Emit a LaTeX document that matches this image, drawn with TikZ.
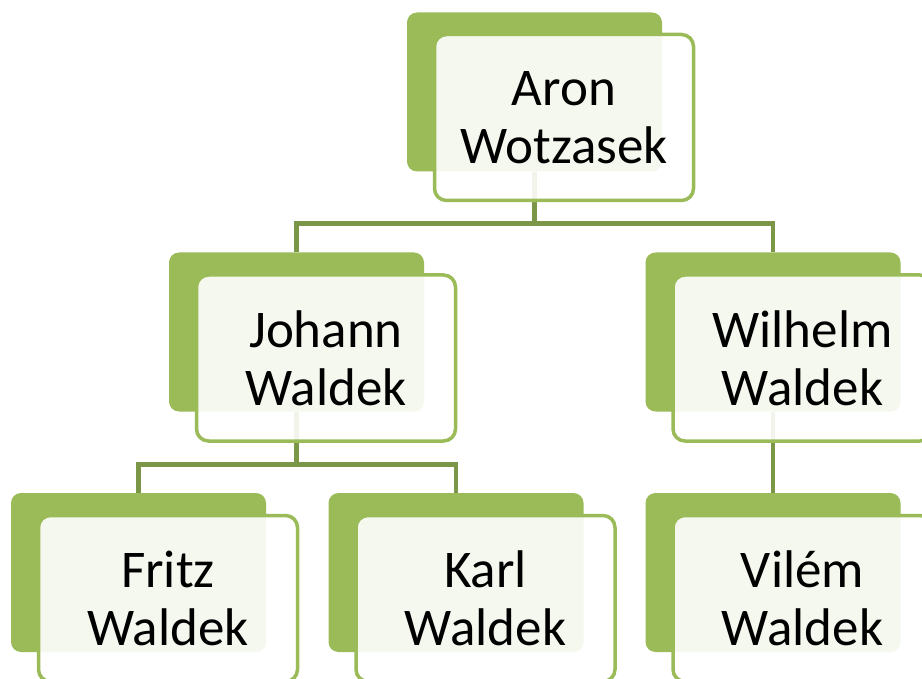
\documentclass[tikz,border=0pt]{standalone}
\usepackage{fontspec}
\setmainfont{Carlito}
\usepackage{xcolor}
\usepackage{tikz}
\definecolor{leaf}{HTML}{9BBB59}
\colorlet{stem}{leaf!80!black}
\begin{document}
\begin{tikzpicture}[x=1pt, y=-1pt,
						back/.style={rectangle, rounded corners=10pt, fill=leaf, inner sep=0pt, minimum width=255pt, minimum height=159pt},
						front/.style={rectangle, rounded corners=12pt, draw=leaf, line width=3.5pt, fill=white, fill opacity=0.9, text opacity=1, inner sep=0pt, minimum width=259pt, minimum height=166pt, align=center, font=\fontsize{53}{58}\selectfont},
						link/.style={draw=stem, line width=4.5pt}]
						\useasboundingbox (0, 0) rectangle (922, 679);
						\node[back] (aron-b) at (534.5, 92) {};
						\node[back] (johann-b) at (296.5, 332) {};
						\node[back] (wilhelm-b) at (773, 332) {};
						\node[back] (fritz-b) at (138.5, 572.5) {};
						\node[back] (karl-b) at (456, 572.5) {};
						\node[back] (vilem-b) at (773, 572.5) {};
						\draw[link] (aron-b.south) -- ++(0, 52) -| (johann-b.north);
						\draw[link] (aron-b.south) -- ++(0, 52) -| (wilhelm-b.north);
						\draw[link] (johann-b.south) -- ++(0, 53) -| (fritz-b.north);
						\draw[link] (johann-b.south) -- ++(0, 53) -| (karl-b.north);
						\draw[link] (wilhelm-b.south) -- (vilem-b.north);
						\node[front] (aron) at ([shift={(29.5, 25.5)}]aron-b.center) {Aron\\Wotzasek};
						\node[front] (johann) at ([shift={(29.5, 26)}]johann-b.center) {Johann\\Waldek};
						\node[front] (wilhelm) at ([shift={(29.5, 26)}]wilhelm-b.center) {Wilhelm\\Waldek};
						\node[front] (fritz) at ([shift={(29.5, 26)}]fritz-b.center) {Fritz\\Waldek};
						\node[front] (karl) at ([shift={(29.5, 26)}]karl-b.center) {Karl\\Waldek};
						\node[front] (vilem) at ([shift={(29.5, 26)}]vilem-b.center) {Vilém\\Waldek};
					\end{tikzpicture}
\end{document}
